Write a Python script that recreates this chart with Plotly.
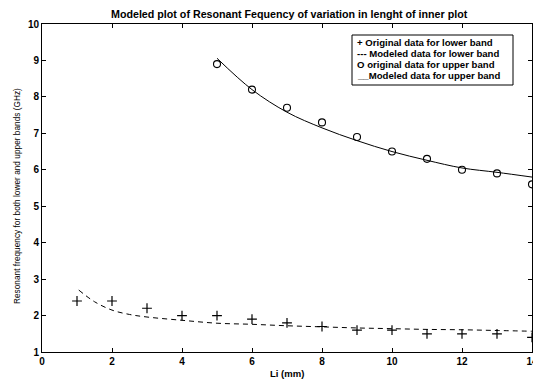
import plotly.graph_objects as go

# Original data
x_lower = [1, 2, 3, 4, 5, 6, 7, 8, 9, 10, 11, 12, 13, 14]
y_lower = [2.4, 2.4, 2.2, 2.0, 2.0, 1.9, 1.8, 1.7, 1.6, 1.6, 1.5, 1.5, 1.5, 1.4]

x_upper = [5, 6, 7, 8, 9, 10, 11, 12, 13, 14]
y_upper = [8.9, 8.2, 7.7, 7.3, 6.9, 6.5, 6.3, 6.0, 5.9, 5.6]

# Modeled data
x_model_lower = [1.05, 1.5, 2, 2.5, 3, 4, 5, 6, 7, 8, 9, 10, 11, 12, 13, 14]
y_model_lower = [2.70, 2.38, 2.15, 2.03, 1.96, 1.87, 1.79, 1.76, 1.72, 1.69, 1.66, 1.64, 1.62, 1.61, 1.59, 1.57]

x_model_upper = [5, 6, 7, 8, 9, 10, 11, 12, 13, 14]
y_model_upper = [9.06, 8.2, 7.58, 7.15, 6.80, 6.50, 6.26, 6.05, 5.93, 5.80]

title_text = "Modeled plot of Resonant Fequency of variation in lenght of inner plot"
x_title = "Li (mm)"
y_title = "Resonant frequency for both lower and upper bands (GHz)"
legend_lines = [
    "+ Original data for lower band",
    "--- Modeled data for lower band",
    "O original data for upper band",
    "__Modeled data for upper band",
]

FONT = "Liberation Sans, Arial, sans-serif"

# plot area geometry in figure pixels
L, T, PW, PH = 42, 24, 490, 328
W, H = 533, 379


def px(xp):
    return (xp - L) / PW


def py(yp):
    return 1 - (yp - T) / PH


fig = go.Figure()
fig.add_trace(go.Scatter(x=x_model_lower, y=y_model_lower, mode="lines",
                         line=dict(color="black", width=1, dash="5px,4px", shape="spline"),
                         showlegend=False))
fig.add_trace(go.Scatter(x=x_model_upper, y=y_model_upper, mode="lines",
                         line=dict(color="black", width=1, shape="spline"),
                         showlegend=False))
fig.add_trace(go.Scatter(x=x_lower, y=y_lower, mode="markers",
                         marker=dict(symbol="cross-thin-open", size=7, color="black",
                                     line=dict(color="black", width=1.2)),
                         showlegend=False))
fig.add_trace(go.Scatter(x=x_upper, y=y_upper, mode="markers",
                         marker=dict(symbol="circle-open", size=7, color="black",
                                     line=dict(color="black", width=1.1)),
                         showlegend=False))

# legend box (text-only legend as in the reference)
box_left, box_right, box_top, box_bottom = 352, 513, 35, 85
fig.add_shape(type="rect", xref="paper", yref="paper",
              x0=px(box_left), x1=px(box_right), y0=py(box_bottom), y1=py(box_top),
              line=dict(color="black", width=1), fillcolor="white", layer="above")
line_y0, line_step = 42.7, 10.8
for i, txt in enumerate(legend_lines):
    fig.add_annotation(
        xref="paper", yref="paper", x=px(355), y=py(line_y0 + i * line_step),
        xanchor="left", yanchor="middle", text=txt, showarrow=False,
        font=dict(family=FONT, size=9.6, color="black", weight="bold"),
    )

# title
fig.add_annotation(xref="paper", yref="paper", x=px(289), y=py(14),
                   xanchor="center", yanchor="middle", text=title_text, showarrow=False,
                   font=dict(family=FONT, size=10.7, color="black", weight="bold"))
# axis titles
fig.add_annotation(xref="paper", yref="paper", x=px(287), y=py(373),
                   xanchor="center", yanchor="middle", text=x_title, showarrow=False,
                   font=dict(family=FONT, size=9.5, color="black", weight="bold"))
fig.add_annotation(xref="paper", yref="paper", x=px(17), y=py(196),
                   xanchor="center", yanchor="middle", text=y_title, showarrow=False,
                   textangle=-90,
                   font=dict(family=FONT, size=8.3, color="black"))

axis_common = dict(
    showgrid=False, zeroline=False, showline=True, linecolor="black", linewidth=1,
    mirror="ticks", ticks="inside", ticklen=4, tickcolor="black", automargin=False,
    ticklabeloverflow="allow",
    tickfont=dict(family=FONT, size=10, color="black", weight="bold"),
)

fig.update_layout(
    width=W, height=H,
    margin=dict(l=L, r=W - L - PW, t=T, b=H - T - PH, pad=0),
    paper_bgcolor="white", plot_bgcolor="white",
    xaxis=dict(range=[0, 14], tickvals=[0, 2, 4, 6, 8, 10, 12, 14], **axis_common),
    yaxis=dict(range=[1, 10], tickvals=list(range(1, 11)), **axis_common),
    showlegend=False,
    hovermode=False,
)

fig.write_html(
    "out.html",
    config={"displayModeBar": False, "staticPlot": True},
    post_script="document.body.style.margin='0';document.body.style.overflow='hidden';",
)
